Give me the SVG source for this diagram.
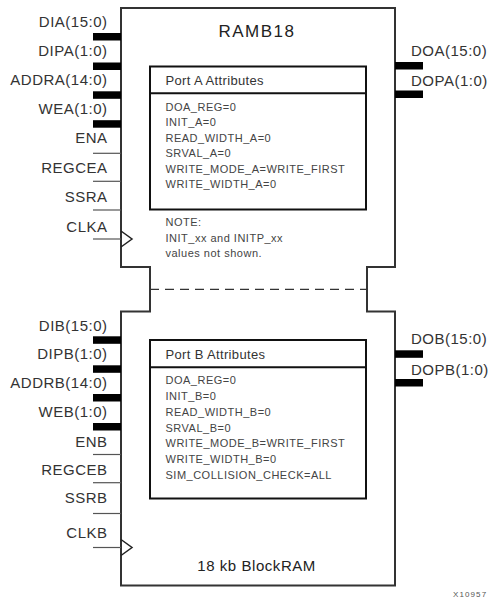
<svg xmlns="http://www.w3.org/2000/svg" width="490" height="603" viewBox="0 0 490 603">
<style>
.pin{font-family:"Liberation Sans",Arial,sans-serif;font-size:15px;letter-spacing:0.5px;fill:#333}
.l{text-anchor:end}
.hdr{font-family:"Liberation Sans",Arial,sans-serif;font-size:13px;letter-spacing:0.35px;fill:#333}
.att{font-family:"Liberation Sans",Arial,sans-serif;font-size:11px;letter-spacing:0.5px;fill:#444}
.bus{fill:#000}
.wire{stroke:#555;stroke-width:1.2;fill:none}
.clk{stroke:#222;stroke-width:1.5;fill:none}
.box{stroke:#111;stroke-width:2;fill:#fff}
</style>
<rect width="490" height="603" fill="#fff"/>
<g id="ramb18">
<path d="M121,8 H395 V267 H367 V311.5 H395 V585.5 H121 V311.5 H150 V267 H121 Z" fill="#fff" stroke="#333" stroke-width="2"/>
<line x1="150" y1="289.3" x2="367" y2="289.3" stroke="#333" stroke-width="1.2" stroke-dasharray="9,6"/>
<text x="218.5" y="36.5" font-family="'Liberation Sans',Arial,sans-serif" font-size="17" letter-spacing="1.5" fill="#222">RAMB18</text>
<text x="197.3" y="570.5" font-family="'Liberation Sans',Arial,sans-serif" font-size="15" letter-spacing="0.55" fill="#222">18 kb BlockRAM</text>
</g>
<g id="portA">
<rect class="box" x="150" y="66.5" width="216" height="143"/>
<line x1="150" y1="93.3" x2="366" y2="93.3" stroke="#111" stroke-width="2"/>
<text class="hdr" x="165.5" y="85">Port A Attributes</text>
<text class="att" x="165.5" y="110.7">DOA_REG=0</text>
<text class="att" x="165.5" y="126.2">INIT_A=0</text>
<text class="att" x="165.5" y="141.7">READ_WIDTH_A=0</text>
<text class="att" x="165.5" y="157.2">SRVAL_A=0</text>
<text class="att" x="165.5" y="172.7">WRITE_MODE_A=WRITE_FIRST</text>
<text class="att" x="165.5" y="188.2">WRITE_WIDTH_A=0</text>
</g>
<g id="note">
<text class="att" x="165.5" y="225.7">NOTE:</text>
<text class="att" x="165.5" y="241.5">INIT_xx and INITP_xx</text>
<text class="att" x="165.5" y="256.8">values not shown.</text>
</g>
<g id="portB">
<rect class="box" x="150" y="340" width="216" height="158.5"/>
<line x1="150" y1="367.3" x2="366" y2="367.3" stroke="#111" stroke-width="2"/>
<text class="hdr" x="165.5" y="359">Port B Attributes</text>
<text class="att" x="165.5" y="384">DOA_REG=0</text>
<text class="att" x="165.5" y="399.9">INIT_B=0</text>
<text class="att" x="165.5" y="415.7">READ_WIDTH_B=0</text>
<text class="att" x="165.5" y="431.6">SRVAL_B=0</text>
<text class="att" x="165.5" y="447.4">WRITE_MODE_B=WRITE_FIRST</text>
<text class="att" x="165.5" y="463.3">WRITE_WIDTH_B=0</text>
<text class="att" x="165.5" y="479.2">SIM_COLLISION_CHECK=ALL</text>
</g>
<g id="pinsA">
<text class="pin l" x="107.5" y="27.3">DIA(15:0)</text>
<text class="pin l" x="107.5" y="56.2">DIPA(1:0)</text>
<text class="pin l" x="107.5" y="85">ADDRA(14:0)</text>
<text class="pin l" x="107.5" y="113.5">WEA(1:0)</text>
<text class="pin l" x="107.5" y="143.3">ENA</text>
<text class="pin l" x="107.5" y="172.5">REGCEA</text>
<text class="pin l" x="107.5" y="201.7">SSRA</text>
<text class="pin l" x="107.5" y="231.5">CLKA</text>
<text class="pin" x="411" y="55.5">DOA(15:0)</text>
<text class="pin" x="411" y="85.5">DOPA(1:0)</text>
</g>
<g id="pinsB">
<text class="pin l" x="107.5" y="330.5">DIB(15:0)</text>
<text class="pin l" x="107.5" y="359.3">DIPB(1:0)</text>
<text class="pin l" x="107.5" y="388.3">ADDRB(14:0)</text>
<text class="pin l" x="107.5" y="416.7">WEB(1:0)</text>
<text class="pin l" x="107.5" y="446.7">ENB</text>
<text class="pin l" x="107.5" y="475">REGCEB</text>
<text class="pin l" x="107.5" y="503.3">SSRB</text>
<text class="pin l" x="107.5" y="538.3">CLKB</text>
<text class="pin" x="411" y="343.5">DOB(15:0)</text>
<text class="pin" x="411" y="374.5">DOPB(1:0)</text>
</g>
<g id="connectors">
<rect class="bus" x="93" y="33" width="28" height="7.5"/>
<rect class="bus" x="93" y="62.5" width="28" height="7.5"/>
<rect class="bus" x="93" y="91.3" width="28" height="7.5"/>
<rect class="bus" x="93" y="120.2" width="28" height="7.5"/>
<line class="wire" x1="93" y1="153.3" x2="121" y2="153.3"/>
<line class="wire" x1="93" y1="181.3" x2="121" y2="181.3"/>
<line class="wire" x1="93" y1="210" x2="121" y2="210"/>
<line class="wire" x1="93" y1="239" x2="121" y2="239"/>
<path class="clk" d="M121,231 L132,239 L121,247"/>
<rect class="bus" x="395" y="62" width="28" height="7.5"/>
<rect class="bus" x="395" y="90.5" width="28" height="7.5"/>
<rect class="bus" x="93" y="336.3" width="28" height="7.5"/>
<rect class="bus" x="93" y="365.3" width="28" height="7.5"/>
<rect class="bus" x="93" y="394" width="28" height="7.5"/>
<rect class="bus" x="93" y="423" width="28" height="7.5"/>
<line class="wire" x1="93" y1="454.5" x2="121" y2="454.5"/>
<line class="wire" x1="93" y1="482.7" x2="121" y2="482.7"/>
<line class="wire" x1="93" y1="513.5" x2="121" y2="513.5"/>
<line class="wire" x1="93" y1="547.5" x2="121" y2="547.5"/>
<path class="clk" d="M121,539.5 L132,547.5 L121,555.5"/>
<rect class="bus" x="395" y="350.3" width="28" height="7.5"/>
<rect class="bus" x="395" y="379" width="28" height="7.5"/>
</g>
<text x="453" y="597" font-family="'Liberation Sans',Arial,sans-serif" font-size="8" letter-spacing="1.1" fill="#555">X10957</text>
</svg>
